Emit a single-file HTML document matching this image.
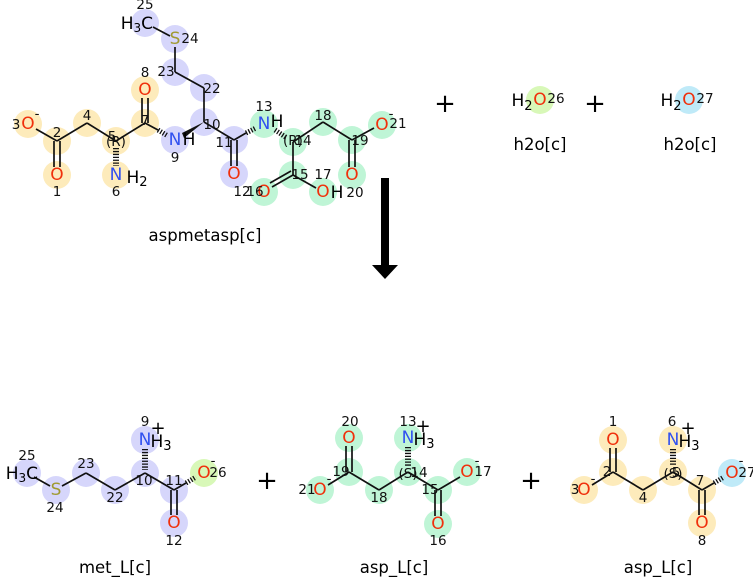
<!DOCTYPE html>
<html><head><meta charset="utf-8"><style>
html,body{margin:0;padding:0;background:#fff;}
svg{display:block;font-family:"DejaVu Sans","Liberation Sans",sans-serif;}
.a{font-size:17px;text-anchor:middle;dominant-baseline:central;}
.n{font-size:13.5px;fill:#111;text-anchor:middle;dominant-baseline:central;}
.O{fill:#f0300c;} .N{fill:#3050f0;} .S{fill:#a09a30;}
.lb{font-size:16.5px;text-anchor:middle;fill:#000;}
line{stroke:#111;stroke-width:1.7;}
.h{stroke:#111;stroke-width:5;stroke-dasharray:1.3 1.6;}
</style></head><body>
<svg width="753" height="577" viewBox="0 0 753 577" xmlns="http://www.w3.org/2000/svg">
<g fill="#fdebbb">
<circle cx="28" cy="124" r="14"/><circle cx="57" cy="141" r="14"/><circle cx="57" cy="175" r="14"/>
<circle cx="87" cy="123" r="14"/><circle cx="116" cy="141" r="14"/><circle cx="116" cy="175" r="14"/>
<circle cx="145" cy="123" r="14"/><circle cx="145" cy="90" r="14"/>
</g>
<g fill="#d6d6fb">
<circle cx="145" cy="23" r="14"/><circle cx="175" cy="39" r="14"/><circle cx="175" cy="72" r="14"/>
<circle cx="204" cy="88" r="14"/><circle cx="204" cy="122" r="14"/><circle cx="175" cy="140" r="14"/>
<circle cx="234" cy="140" r="14"/><circle cx="234" cy="174" r="14"/>
</g>
<g fill="#bff5d6">
<circle cx="264" cy="124" r="14"/><circle cx="293" cy="142" r="14"/><circle cx="323" cy="122" r="14"/>
<circle cx="352" cy="140" r="14"/><circle cx="382" cy="125" r="14"/><circle cx="352" cy="175" r="14"/>
<circle cx="293" cy="175" r="14"/><circle cx="264" cy="192" r="14"/><circle cx="323" cy="192" r="14"/>
</g>
<circle cx="540" cy="100" r="14" fill="#d8f8b8"/>
<circle cx="689" cy="100" r="14" fill="#bfeaf8"/>
<line x1="153" y1="27" x2="170" y2="36"/><line x1="175" y1="47" x2="175" y2="72"/>
<line x1="175" y1="72" x2="204" y2="88"/><line x1="204" y1="88" x2="204" y2="122"/>
<polygon points="204,122 182,133 184,138" fill="#111"/>
<line class="h" x1="158" y1="130" x2="168" y2="136"/>
<line x1="145" y1="123" x2="158" y2="130"/>
<line x1="142" y1="98" x2="142" y2="123"/><line x1="148" y1="98" x2="148" y2="123"/>
<line x1="145" y1="123" x2="116" y2="141"/>
<line class="h" x1="116" y1="148" x2="116" y2="166" style="stroke-width:6"/>
<line x1="116" y1="141" x2="87" y2="123"/><line x1="87" y1="123" x2="57" y2="141"/>
<line x1="57" y1="141" x2="36" y2="129"/>
<line x1="54" y1="141" x2="54" y2="167"/><line x1="60" y1="141" x2="60" y2="167"/>
<line x1="204" y1="122" x2="234" y2="140"/>
<line x1="231" y1="140" x2="231" y2="166"/><line x1="237" y1="140" x2="237" y2="166"/>
<line x1="234" y1="140" x2="246" y2="133"/><line class="h" x1="246" y1="133" x2="256" y2="128"/>
<line class="h" x1="275" y1="130" x2="287" y2="138"/>
<line x1="293" y1="142" x2="323" y2="122"/><line x1="323" y1="122" x2="352" y2="140"/>
<line x1="352" y1="140" x2="374" y2="128"/>
<line x1="349" y1="140" x2="349" y2="167"/><line x1="355" y1="140" x2="355" y2="167"/>
<line x1="293" y1="142" x2="293" y2="175"/>
<line x1="293" y1="175" x2="272" y2="187"/><line x1="291" y1="171" x2="270" y2="183"/>
<line x1="293" y1="175" x2="316" y2="188"/>
<text class="a" x="153" y="24" style="text-anchor:end;">H<tspan font-size="12" dy="4">3</tspan><tspan dy="-4">C</tspan></text>
<text class="a S" x="175" y="39">S</text>
<text class="a O" x="145" y="90">O</text>
<text class="a O" x="28" y="124">O</text><text class="n" x="37" y="114">-</text>
<text class="a O" x="57" y="175">O</text>
<text class="a N" x="116" y="175">N</text><text class="a" x="137" y="178">H<tspan font-size="13" dy="4">2</tspan></text>
<text class="a N" x="175" y="140">N</text><text class="a" x="189" y="140">H</text>
<text class="a O" x="234" y="174">O</text>
<text class="a N" x="264" y="124">N</text><text class="a" x="277" y="122">H</text>
<text class="a O" x="382" y="125">O</text><text class="n" x="391" y="114">-</text>
<text class="a O" x="352" y="175">O</text>
<text class="a O" x="264" y="192">O</text>
<text class="a O" x="323" y="192">O</text><text class="a" x="337" y="193">H</text>
<text class="n" x="116" y="142" fill="#555">(R)</text>
<text class="n" x="293" y="141" fill="#555">(R)</text>
<text class="n" x="145" y="5">25</text><text class="n" x="190" y="39">24</text>
<text class="n" x="166" y="72">23</text><text class="n" x="212" y="89">22</text>
<text class="n" x="212" y="125">10</text><text class="n" x="175" y="158">9</text>
<text class="n" x="145" y="73">8</text><text class="n" x="145" y="121">7</text>
<text class="n" x="112" y="137">5</text><text class="n" x="116" y="192">6</text>
<text class="n" x="87" y="116">4</text><text class="n" x="57" y="133">2</text>
<text class="n" x="16" y="125">3</text><text class="n" x="57" y="192">1</text>
<text class="n" x="224" y="143">11</text><text class="n" x="242" y="192">12</text><text class="n" x="255" y="192">16</text>
<text class="n" x="264" y="107">13</text><text class="n" x="303" y="141">14</text>
<text class="n" x="323" y="116">18</text><text class="n" x="360" y="141">19</text>
<text class="n" x="398" y="124">21</text><text class="n" x="355" y="193">20</text>
<text class="n" x="300" y="175">15</text><text class="n" x="323" y="175">17</text>
<text class="lb" x="205" y="241">aspmetasp[c]</text>
<text x="445" y="112" font-size="26" text-anchor="middle">+</text>
<text x="595" y="112" font-size="26" text-anchor="middle">+</text>
<text class="a" x="522" y="101">H<tspan font-size="13" dy="5">2</tspan></text><text class="a O" x="540" y="100">O</text><text class="n" x="556" y="99">26</text>
<text class="a" x="671" y="101">H<tspan font-size="13" dy="5">2</tspan></text><text class="a O" x="689" y="100">O</text><text class="n" x="705" y="99">27</text>
<text class="lb" x="540" y="150">h2o[c]</text><text class="lb" x="690" y="150">h2o[c]</text>
<rect x="381" y="178" width="8" height="88" fill="#000"/>
<polygon points="372,265 398,265 385,279" fill="#000"/>
<g fill="#d6d6fb">
<circle cx="27" cy="473" r="14"/><circle cx="56" cy="490" r="14"/><circle cx="86" cy="473" r="14"/>
<circle cx="115" cy="490" r="14"/><circle cx="145" cy="473" r="14"/><circle cx="145" cy="440" r="14"/>
<circle cx="174" cy="490" r="14"/><circle cx="174" cy="523" r="14"/>
</g>
<circle cx="204" cy="473" r="14" fill="#d8f8b8"/>
<g fill="#bff5d6">
<circle cx="349" cy="438" r="14"/><circle cx="349" cy="472" r="14"/><circle cx="320" cy="490" r="14"/>
<circle cx="379" cy="490" r="14"/><circle cx="408" cy="472" r="14"/><circle cx="408" cy="438" r="14"/>
<circle cx="438" cy="490" r="14"/><circle cx="467" cy="472" r="14"/><circle cx="438" cy="524" r="14"/>
</g>
<g fill="#fdebbb">
<circle cx="613" cy="440" r="14"/><circle cx="613" cy="472" r="14"/><circle cx="584" cy="490" r="14"/>
<circle cx="643" cy="490" r="14"/><circle cx="673" cy="472" r="14"/><circle cx="673" cy="440" r="14"/>
<circle cx="702" cy="490" r="14"/><circle cx="702" cy="523" r="14"/>
</g>
<circle cx="732" cy="473" r="14" fill="#bfeaf8"/>
<line x1="34" y1="477" x2="50" y2="486"/><line x1="62" y1="486" x2="86" y2="473"/>
<line x1="86" y1="473" x2="115" y2="490"/><line x1="115" y1="490" x2="145" y2="473"/>
<line class="h" x1="145" y1="449" x2="145" y2="470" style="stroke-width:6"/>
<line x1="145" y1="473" x2="174" y2="490"/>
<line x1="171" y1="490" x2="171" y2="515"/><line x1="177" y1="490" x2="177" y2="515"/>
<line x1="174" y1="490" x2="186" y2="483"/><line class="h" x1="186" y1="483" x2="196" y2="477"/>
<line x1="346" y1="446" x2="346" y2="472"/><line x1="352" y1="446" x2="352" y2="472"/>
<line x1="349" y1="472" x2="328" y2="485"/><line x1="349" y1="472" x2="379" y2="490"/>
<line x1="379" y1="490" x2="408" y2="472"/>
<line class="h" x1="408" y1="447" x2="408" y2="466" style="stroke-width:6"/>
<line x1="408" y1="472" x2="438" y2="490"/><line x1="438" y1="490" x2="460" y2="477"/>
<line x1="435" y1="490" x2="435" y2="516"/><line x1="441" y1="490" x2="441" y2="516"/>
<line x1="610" y1="448" x2="610" y2="472"/><line x1="616" y1="448" x2="616" y2="472"/>
<line x1="613" y1="472" x2="592" y2="485"/><line x1="613" y1="472" x2="643" y2="490"/>
<line x1="643" y1="490" x2="673" y2="472"/>
<line class="h" x1="673" y1="449" x2="673" y2="466" style="stroke-width:6"/>
<line x1="673" y1="472" x2="702" y2="490"/>
<line x1="699" y1="490" x2="699" y2="515"/><line x1="705" y1="490" x2="705" y2="515"/>
<line x1="702" y1="490" x2="714" y2="483"/><line class="h" x1="714" y1="483" x2="724" y2="477"/>
<text class="a" x="38" y="474" style="text-anchor:end;">H<tspan font-size="12" dy="4">3</tspan><tspan dy="-4">C</tspan></text>
<text class="a S" x="56" y="490">S</text>
<text class="a N" x="145" y="440">N</text><text class="a" x="161" y="442">H<tspan font-size="13" dy="4">3</tspan></text><text x="158" y="434" font-size="18" text-anchor="middle">+</text>
<text class="a O" x="204" y="473">O</text><text class="n" x="213" y="461">-</text>
<text class="a O" x="174" y="523">O</text>
<text class="a O" x="349" y="438">O</text><text class="a O" x="320" y="490">O</text><text class="n" x="329" y="479">-</text>
<text class="a N" x="408" y="438">N</text><text class="a" x="424" y="440">H<tspan font-size="13" dy="4">3</tspan></text><text x="423" y="432" font-size="18" text-anchor="middle">+</text>
<text class="a O" x="467" y="472">O</text><text class="n" x="477" y="461">-</text>
<text class="a O" x="438" y="524">O</text>
<text class="n" x="408" y="474" fill="#555">(S)</text>
<text class="a O" x="613" y="440">O</text><text class="a O" x="584" y="490">O</text><text class="n" x="593" y="479">-</text>
<text class="a N" x="673" y="440">N</text><text class="a" x="689" y="442">H<tspan font-size="13" dy="4">3</tspan></text><text x="688" y="434" font-size="18" text-anchor="middle">+</text>
<text class="a O" x="732" y="473">O</text><text class="n" x="741" y="461">-</text>
<text class="a O" x="702" y="523">O</text>
<text class="n" x="673" y="474" fill="#555">(S)</text>
<text class="n" x="27" y="456">25</text><text class="n" x="55" y="508">24</text><text class="n" x="86" y="464">23</text>
<text class="n" x="115" y="498">22</text><text class="n" x="144" y="481">10</text><text class="n" x="174" y="481">11</text>
<text class="n" x="145" y="422">9</text><text class="n" x="218" y="473">26</text><text class="n" x="174" y="541">12</text>
<text class="n" x="350" y="422">20</text><text class="n" x="408" y="422">13</text><text class="n" x="341" y="472">19</text>
<text class="n" x="307" y="490">21</text><text class="n" x="379" y="498">18</text><text class="n" x="419" y="473">14</text>
<text class="n" x="430" y="490">15</text><text class="n" x="483" y="472">17</text><text class="n" x="438" y="541">16</text>
<text class="n" x="613" y="422">1</text><text class="n" x="672" y="422">6</text><text class="n" x="607" y="472">2</text>
<text class="n" x="575" y="490">3</text><text class="n" x="643" y="498">4</text><text class="n" x="676" y="473">5</text>
<text class="n" x="747" y="473">27</text><text class="n" x="702" y="541">8</text><text class="n" x="700" y="481">7</text>
<text class="lb" x="115" y="573">met_L[c]</text>
<text class="lb" x="394" y="573">asp_L[c]</text>
<text class="lb" x="658" y="573">asp_L[c]</text>
<text x="267" y="489" font-size="26" text-anchor="middle">+</text>
<text x="531" y="489" font-size="26" text-anchor="middle">+</text>
</svg>
</body></html>
